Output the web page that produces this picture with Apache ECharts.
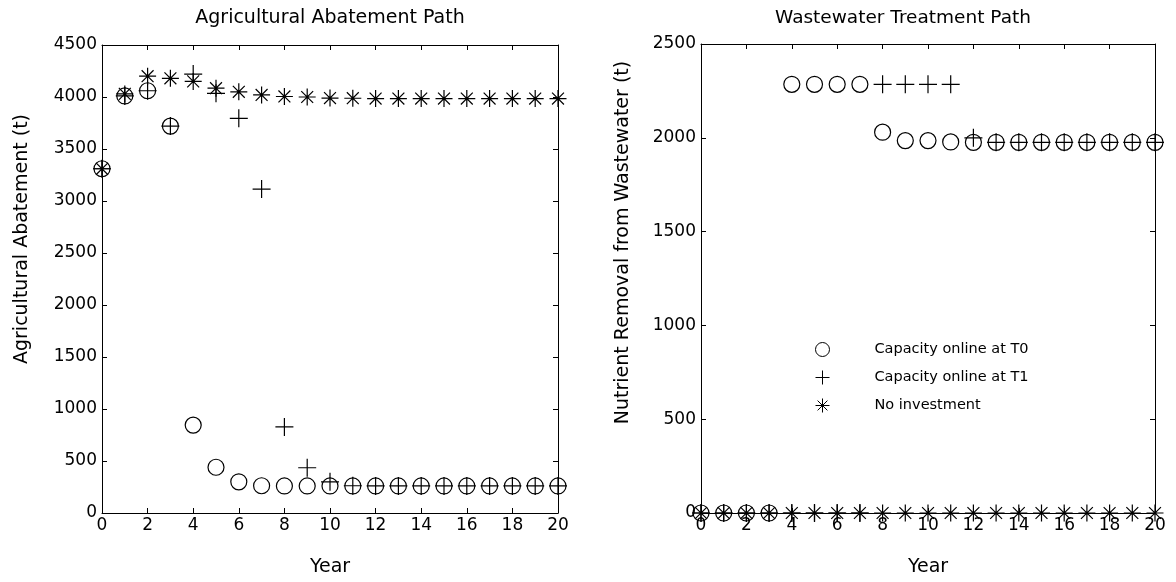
<!DOCTYPE html>
<html>
<head>
<meta charset="utf-8">
<script src="https://cdn.jsdelivr.net/npm/echarts@6/dist/echarts.min.js"></script>
<style>
html,body{margin:0;padding:0;background:#fff;}
#main{width:1176px;height:582px;}
</style>
</head>
<body>
<div id="main"></div>
<script>
// ---- data ----
var years = [0,1,2,3,4,5,6,7,8,9,10,11,12,13,14,15,16,17,18,19,20];
var agriT0   = [3310,4010,4060,3720,845,440,300,262,260,260,260,260,260,260,260,260,260,260,260,260,260];
var agriT1   = [3310,4010,4060,3720,4220,4035,3795,3115,828,435,300,262,260,260,260,260,260,260,260,260,260];
var agriNone = [3310,4030,4200,4180,4150,4085,4050,4020,4005,4000,3990,3988,3985,3985,3985,3985,3985,3985,3985,3985,3985];
var wwT0   = [0,0,0,0,2285,2285,2285,2285,2030,1985,1985,1978,1976,1976,1976,1976,1976,1976,1976,1976,1976];
var wwT1   = [0,0,0,0,0,0,0,0,2285,2285,2285,2285,2000,1976,1976,1976,1976,1976,1976,1976,1976];
var wwNone = [0,0,0,0,0,0,0,0,0,0,0,0,0,0,0,0,0,0,0,0,0];
var seriesNames = ['Capacity online at T0','Capacity online at T1','No investment'];
var titles = ['Agricultural Abatement Path','Wastewater Treatment Path'];
var yNames = ['Agricultural Abatement (t)','Nutrient Removal from Wastewater (t)'];
var xName = 'Year';

var FONT = 'DejaVu Sans';
var plusPath = 'path://M10,0L10,20M0,10L20,10';
var starPath = 'path://M10,0L10,20M0,10L20,10M3,3L17,17M3,17L17,3';
var symbols = [
  {symbol:'circle', size:16},
  {symbol:plusPath, size:18},
  {symbol:starPath, size:17}
];

function pairs(arr){ return years.map(function(y,i){ return [y, arr[i]]; }); }

function mkSeries(name, arr, idx, gi){
  var s = symbols[idx];
  return {
    type:'scatter', name:name, xAxisIndex:gi*2, yAxisIndex:gi*2,
    data:pairs(arr), symbol:s.symbol, symbolSize:s.size, clip:false,
    itemStyle:{color:'rgba(0,0,0,0)', borderColor:'#000', borderWidth:1.2, opacity:1},
    emphasis:{disabled:true}, silent:true
  };
}

var axisLine = {show:true, onZero:false, lineStyle:{color:'#000', width:1}};
var tick = {show:true, inside:true, length:5, lineStyle:{color:'#000', width:1}};
var lbl = {show:true, color:'#000', fontFamily:FONT, fontSize:17, formatter:function(v){return String(v);}};

function xAxes(gi){
  return [
    {type:'value', gridIndex:gi, min:0, max:20, interval:2, position:'bottom',
     axisLine:axisLine, axisTick:tick, splitLine:{show:false},
     axisLabel:Object.assign({margin:4}, lbl),
     name:xName, nameLocation:'middle', nameGap:45,
     nameTextStyle:{color:'#000', fontFamily:FONT, fontSize:19}},
    {type:'value', gridIndex:gi, min:0, max:20, interval:2, position:'top',
     axisLine:axisLine, axisTick:tick, splitLine:{show:false}, axisLabel:{show:false}}
  ];
}
function yAxes(gi, max, gap, shift){
  return [
    {type:'value', gridIndex:gi, min:0, max:max, interval:500, position:'left',
     axisLine:axisLine, axisTick:tick, splitLine:{show:false},
     axisLabel:Object.assign({margin:5}, lbl),
     name:yNames[gi], nameLocation:'middle', nameGap:gap,
     nameTextStyle:{color:'#000', fontFamily:FONT, fontSize:19, padding:[0,0,0,shift]}},
    {type:'value', gridIndex:gi, min:0, max:max, interval:500, position:'right',
     axisLine:axisLine, axisTick:tick, splitLine:{show:false}, axisLabel:{show:false}}
  ];
}

var option = {
  backgroundColor:'#fff',
  animation:false,
  title:[
    {text:titles[0], left:325, top:4, textAlign:'center',
     textStyle:{color:'#000', fontFamily:FONT, fontSize:19, fontWeight:'normal'}},
    {text:titles[1], left:898, top:4, textAlign:'center',
     textStyle:{color:'#000', fontFamily:FONT, fontSize:18.5, fontWeight:'normal'}}
  ],
  legend:{
    orient:'vertical', left:810, top:337, itemWidth:94, itemHeight:14, itemGap:13,
    data:seriesNames, selectedMode:false,
    itemStyle:{borderWidth:1},
    textStyle:{color:'#000', fontFamily:FONT, fontSize:14.5}
  },
  grid:[
    {left:102, right:618, top:45, bottom:65},
    {left:701, right:21, top:44, bottom:64}
  ],
  xAxis: xAxes(0).concat(xAxes(1)),
  yAxis: yAxes(0, 4500, 70, 80).concat(yAxes(1, 2500, 68, 72)),
  series:[
    mkSeries(seriesNames[0], agriT0, 0, 0),
    mkSeries(seriesNames[1], agriT1, 1, 0),
    mkSeries(seriesNames[2], agriNone, 2, 0),
    mkSeries(seriesNames[0], wwT0, 0, 1),
    mkSeries(seriesNames[1], wwT1, 1, 1),
    mkSeries(seriesNames[2], wwNone, 2, 1)
  ]
};
var chart = echarts.init(document.getElementById('main'), null, {renderer:'canvas'});
chart.setOption(option);
</script>
</body>
</html>
